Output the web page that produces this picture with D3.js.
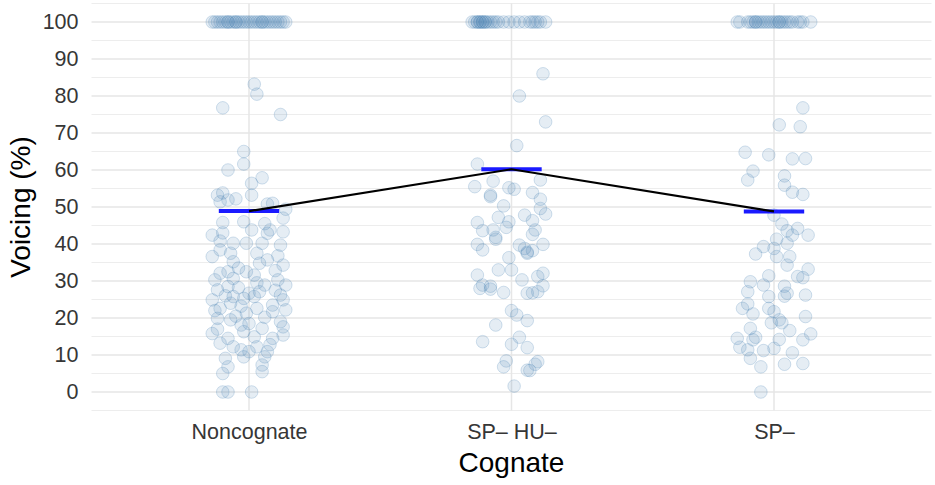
<!DOCTYPE html>
<html>
<head>
<meta charset="utf-8">
<script src="https://cdn.jsdelivr.net/npm/d3@7"></script>
<style>
  html, body { margin: 0; padding: 0; background: #fff; }
  svg { display: block; }
</style>
</head>
<body>
<svg id="chart" width="935" height="485"></svg>
<script>
// ---------- DATA ----------
const categories = ["Noncognate", "SP\u2013 HU\u2013", "SP\u2013"];
const yTicks = [0, 10, 20, 30, 40, 50, 60, 70, 80, 90, 100];
const means = [48.9, 60.2, 48.8];

// [jitter (fraction of category step, in %), voicing %]
const noncognatePoints = [
  [2,83.2],[3,80.5],[-10,76.8],[12,75],[-2,65],[-2,61.6],[-8,60],[5,57.9],[1,56.4],[1,53.2],
  [-12,53.2],[-10,53.8],[-8,51.9],[-5,52.2],[-11,51.4],[7,50.8],[9,51],[14,49.4],[13,47],[-2,46],
  [-10,45.8],[-14,42.4],[-10,43],[8,43.8],[13,43.3],[7,42.9],
  [-14,36.6],[-11,38.4],[-6,40.2],[-1,40.2],[5,40.2],[12,39.7],[-7,37.5],[3,37.5],[7,35.7],[13,34.3],
  [-11,32.1],[-8,32.5],[-1,32.5],[2,31.6],[-6,30.7],[-13,30.3],[11,30.3],[14,28.9],[6,28.9],[-8,28.5],
  [-12,27.6],[0,26.7],[4,27.1],[-6,25.8],[-2,25.3],[2,25.8],[-14,24.9],[13,24.9],[-7,24],[9,23.5],
  [-11,22.6],[3,22.6],[14,22.2],[-1,21.3],[9,21.7],[-12,19.9],[-7,19.5],[12,19],[-3,18.1],[5,17.2],
  [13,17.6],[-14,15.8],[-8,14.5],[-2,16.3],[2,14.9],[9,14.5],[13,15.4],[-11,13.2],[-6,12.2],[3,12.2],
  [-3,11.4],[0,10.9],[7,10.9],[-2,9.5],[6,9.5],[-9,9.1],[5,7.3],[-8,6.8],[-10,5],[5,5.5],
  [-10,0],[-8,0],[1,0],
  [-4,33.5],[4,34.8],[-9,26],[10,27.5],[-5,20.5],[6,20.2],[-12,17],[0,18.5],[8,12.8],[-4,28.2],
  [11,36.8],[-13,22],[3,29.5],[-6,35.2],[1,43.8],[-11,40.8],[6,45.5],[10,32.8],[-3,23.2],[12,26.2]
];
const noncognateFull = [-14,-13,-12,-11,-10,-9,-8,-8,-7,-6,-5,-5,-4,-3,-2,-1,0,1,2,3,4,5,5,6,7,8,9,10,11,12,13,14];

const sphuPoints = [
  [12,86],[3,80],[13,73],[2,66.6],[-13,61.6],[-7,57],[11,57.3],[-14,55.5],[-1,55.2],[1,54.8],
  [8,53.9],[-8,52.8],[-8,53.2],[11,52.1],[-3,50.3],[11,49.6],[13,48.1],[5,47.8],[-5,47.2],[-13,45.8],
  [-1,46],[8,46.3],[-2,44.5],[-11,43.6],[-7,43.8],[9,43.8],[8,42.6],[-6,41.8],[-6,41.3],[-13,39.9],
  [-11,38.4],[3,39.7],[12,39.9],[5,38.8],[6,37.8],[8,38.2],[6,37.5],[-1,36.3],[-5,33],[0,33],
  [-13,31.6],[12,32.1],[10,31.2],[4,30.3],[-11,28.9],[-8,28.6],[-12,28],[-8,27.8],[-3,26.9],[6,26.7],
  [8,26.8],[10,27.1],[12,28.7],[0,22],[2,20.8],[6,19.3],[-6,18.1],[-11,13.6],[0,12.9],[3,14.8],
  [6,12],[-2,8.4],[-3,6.8],[10,8.2],[9,7.5],[6,5.9],[7,5.8],[1,1.6]
];
const sphuFull = [-15,-14,-13,-13,-12,-12,-11,-11,-10,-10,-9,-8,-7,-6,-5,-3,-1,1,3,5,7,8,9,10,11,13];

const spPoints = [
  [11,76.8],[2,72.2],[10,71.7],[-11,64.8],[-2,64.1],[7,63],[12,63.1],[-8,59.7],[4,58.4],[-10,57.3],
  [4,55.9],[7,54],[11,53.4],[0,47.8],[3,45.4],[9,44.2],[5,43.6],[7,42.4],[13,42.4],[1,41.3],
  [-4,39.3],[0,38.8],[5,40.2],[-7,37.3],[1,36.6],[6,36.6],[5,34.3],[13,33.2],[-2,31.4],[9,31.2],
  [11,30.9],[-9,29.8],[-4,28.9],[4,28.6],[-10,27.1],[5,26.7],[-2,25.8],[4,25.9],[12,26.2],[-12,22.6],
  [-10,23.8],[-8,21.1],[-2,22.6],[0,21.7],[12,20.4],[-1,18.7],[2,19.5],[3,18.7],[-9,17.2],[6,16.6],
  [-14,14.5],[-7,14.8],[-8,14.1],[2,14.2],[14,15.7],[11,14.1],[-13,12.1],[-10,11.4],[-4,11.2],[0,11.8],
  [7,10.6],[-9,9.1],[-5,6.8],[4,7.5],[11,7.7],[-5,0]
];
const spFull = [-14,-13,-10,-9,-8,-7,-7,-6,-5,-4,-3,-2,-1,0,1,2,2,3,4,5,6,7,9,10,11,14];

// ---------- BUILD TABLE ----------
const groups = [
  { cat: categories[0], pts: noncognatePoints, full: noncognateFull },
  { cat: categories[1], pts: sphuPoints, full: sphuFull },
  { cat: categories[2], pts: spPoints, full: spFull }
];
const points = [];
groups.forEach(g => {
  g.pts.forEach(p => points.push({ cat: g.cat, j: p[0] / 100, v: p[1] }));
  g.full.forEach(j => points.push({ cat: g.cat, j: j / 100, v: 100 }));
});

// ---------- LAYOUT ----------
const FONT = "Liberation Sans, Arial, sans-serif";
const svg = d3.select("#chart");
const panel = { left: 91.5, right: 931.5, top: 3.5, bottom: 410.5 };

const x = d3.scalePoint().domain(categories).range([panel.left, panel.right]).padding(0.6);
const y = d3.scaleLinear().domain([-5, 105]).range([panel.bottom, panel.top]);

// grid
const grid = svg.append("g");
const minor = d3.range(-5, 106, 10);
grid.selectAll("line.minor").data(minor).enter().append("line")
  .attr("x1", panel.left).attr("x2", panel.right)
  .attr("y1", d => y(d)).attr("y2", d => y(d))
  .attr("stroke", "#ededed").attr("stroke-width", 1.1);
grid.selectAll("line.major").data(yTicks).enter().append("line")
  .attr("x1", panel.left).attr("x2", panel.right)
  .attr("y1", d => y(d)).attr("y2", d => y(d))
  .attr("stroke", "#e6e6e6").attr("stroke-width", 1.5);
grid.selectAll("line.vert").data(categories).enter().append("line")
  .attr("x1", d => x(d)).attr("x2", d => x(d))
  .attr("y1", panel.top).attr("y2", panel.bottom)
  .attr("stroke", "#e6e6e6").attr("stroke-width", 1.5);

// axes (text only, like theme_minimal)
const yAxis = d3.axisLeft(y).tickValues(yTicks).tickSize(0).tickPadding(13);
const gy = svg.append("g").attr("transform", `translate(${panel.left},0)`).call(yAxis);
gy.select(".domain").remove();
gy.selectAll("text").attr("font-family", FONT)
  .attr("font-size", 21.5).attr("fill", "#363636");

const xAxis = d3.axisBottom(x).tickSize(0).tickPadding(13);
const gx = svg.append("g").attr("transform", `translate(0,${panel.bottom})`).call(xAxis);
gx.select(".domain").remove();
gx.selectAll("text").attr("font-family", FONT)
  .attr("font-size", 21.5).attr("fill", "#363636");

// points
const step = x.step();
svg.append("g").selectAll("circle").data(points).enter().append("circle")
  .attr("cx", d => x(d.cat) + d.j * step)
  .attr("cy", d => y(d.v))
  .attr("r", 6.3)
  .attr("fill", "steelblue").attr("fill-opacity", 0.14)
  .attr("stroke", "steelblue").attr("stroke-opacity", 0.24).attr("stroke-width", 1);

// mean crossbars
const meanData = categories.map((c, i) => ({ cat: c, v: means[i] }));
svg.append("g").selectAll("line").data(meanData).enter().append("line")
  .attr("x1", d => x(d.cat) - 0.115 * step)
  .attr("x2", d => x(d.cat) + 0.115 * step)
  .attr("y1", d => y(d.v)).attr("y2", d => y(d.v))
  .attr("stroke", "#1a1aff").attr("stroke-width", 4);

// mean line
svg.append("path").datum(meanData)
  .attr("d", d3.line().x(d => x(d.cat)).y(d => y(d.v)))
  .attr("fill", "none").attr("stroke", "#000").attr("stroke-width", 2.2);

// axis titles
svg.append("text")
  .attr("x", (panel.left + panel.right) / 2).attr("y", 472)
  .attr("text-anchor", "middle")
  .attr("font-family", FONT)
  .attr("font-size", 28).attr("fill", "#000")
  .text("Cognate");
svg.append("text")
  .attr("transform", `translate(30,${(panel.top + panel.bottom) / 2}) rotate(-90)`)
  .attr("text-anchor", "middle")
  .attr("font-family", FONT)
  .attr("font-size", 28).attr("fill", "#000")
  .text("Voicing (%)");
</script>
</body>
</html>
